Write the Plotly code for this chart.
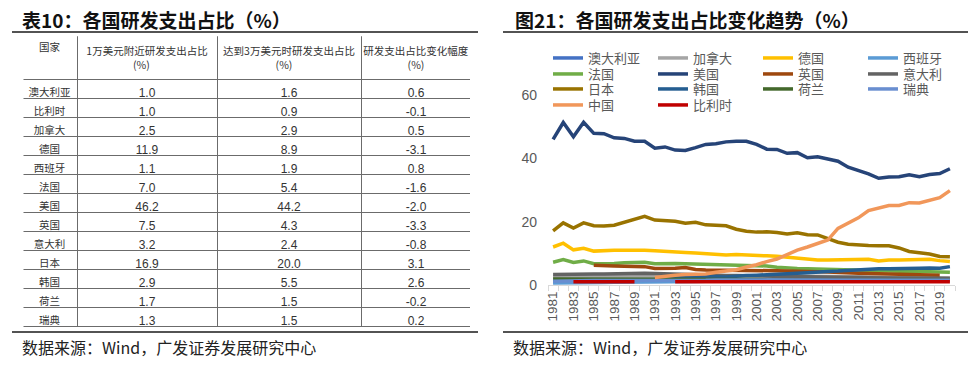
import plotly.graph_objects as go

# the page body adds an 8px margin; lay the figure out in reference pixels shifted by it
OFF = 8
W, H = 976 - OFF, 369 - OFF
def px(x): return (x - OFF) / W
def py(y): return 1 - (y - OFF) / H

# ---------------- table data ----------------
tbl_countries = ["澳大利亚", "比利时", "加拿大", "德国", "西班牙", "法国", "美国",
                 "英国", "意大利", "日本", "韩国", "荷兰", "瑞典"]
tbl_at_10k = ["1.0", "1.0", "2.5", "11.9", "1.1", "7.0", "46.2", "7.5", "3.2", "16.9", "2.9", "1.7", "1.3"]
tbl_at_30k = ["1.6", "0.9", "2.9", "8.9", "1.9", "5.4", "44.2", "4.3", "2.4", "20.0", "5.5", "1.5", "1.5"]
tbl_change = ["0.6", "-0.1", "0.5", "-3.1", "0.8", "-1.6", "-2.0", "-3.3", "-0.8", "3.1", "2.6", "-0.2", "0.2"]
tbl_header = ["国家",
              "1万美元附近研发支出占比<br>\u3000\u3000\u3000\u3000\u00a0\u00a0(%)",
              "达到3万美元时研发支出占比<br>\u3000\u3000\u3000\u3000\u3000(%)",
              "研发支出占比变化幅度<br>\u3000\u3000\u3000\u3000\u00a0(%)"]

# ---------------- line chart data ----------------
years = list(range(1981, 2021))
N = None
australia = [1.0,1.0,1.0,1.0,1.0,1.0,1.1,1.1,1.1,1.1,1.1,1.2,1.2,1.2,1.3,1.3,1.3,1.3,1.3,1.3,
             1.3,1.4,1.4,1.5,1.5,1.6,1.6,1.7,1.7,1.7,1.7,1.7,1.7,1.6,1.6,1.5,1.5,1.5,1.5,1.5]
canada = [2.5,2.6,2.5,2.6,2.7,2.7,2.7,2.7,2.7,2.7,2.6,2.6,2.7,2.8,2.8,2.8,2.8,2.9,2.9,3.0,
          3.1,3.0,2.9,2.9,2.9,2.8,2.8,2.7,2.6,2.6,2.6,2.5,2.4,2.4,2.3,2.3,2.2,2.2,2.2,2.1]
germany = [12.0,13.2,11.1,11.6,10.7,10.9,11.0,11.0,11.1,11.0,10.8,10.7,10.5,10.3,10.1,9.9,9.7,9.5,9.6,9.4,
           9.2,9.2,9.1,8.8,8.3,8.0,7.9,7.9,7.9,7.9,8.0,8.1,7.6,7.9,7.9,8.0,8.2,8.1,7.7,7.4]
spain = [0.6,0.6,0.6,0.7,0.7,0.8,0.9,0.9,0.9,0.9,0.9,0.9,1.0,1.0,1.1,1.2,1.2,1.3,1.3,1.4,
         1.5,1.6,1.7,1.8,1.9,1.9,2.0,2.0,1.9,1.8,1.7,1.6,1.5,1.4,1.4,1.4,1.4,1.4,1.4,1.4]
france = [7.2,8.0,7.1,7.6,6.7,6.7,6.8,7.0,7.0,7.2,6.7,6.8,6.8,6.7,6.6,6.5,6.3,6.2,6.1,6.0,
          6.0,6.0,5.6,5.3,5.2,5.1,5.0,5.0,4.9,4.8,4.7,4.6,4.5,4.5,4.4,4.3,4.3,4.2,4.1,4.0]
usa = [46.0,51.3,46.8,51.4,47.9,47.8,46.5,46.3,45.4,45.4,43.2,43.6,42.6,42.5,43.4,44.4,44.6,45.2,45.4,45.4,
       44.4,42.9,42.8,41.6,41.8,40.2,40.5,39.8,39.1,37.2,36.1,35.1,33.7,34.1,34.2,34.8,34.2,34.9,35.2,36.7]
uk = [N,N,N,N,6.2,6.2,6.0,5.9,5.9,5.8,5.2,5.2,5.3,5.5,4.9,4.7,4.7,4.7,4.7,4.6,
      4.6,4.5,4.5,4.4,4.4,4.3,4.2,4.1,3.9,3.8,3.7,3.6,3.5,3.5,3.4,3.3,3.3,3.2,3.1,N]
italy = [3.3,3.4,3.3,3.4,3.5,3.5,3.6,3.6,3.7,3.7,3.6,3.5,3.3,3.2,3.1,3.0,3.0,3.0,3.0,2.9,
         2.9,2.9,2.8,2.7,2.6,2.6,2.6,2.5,2.5,2.4,2.4,2.3,2.2,2.2,2.2,2.2,2.2,2.2,2.2,2.1]
japan = [17.1,19.6,18.0,19.6,18.7,18.6,18.9,19.8,20.7,21.7,20.5,20.4,20.1,19.5,19.8,19.0,18.8,18.7,17.6,17.0,
         16.7,16.8,16.6,16.1,16.5,15.9,15.8,14.7,13.5,12.9,12.6,12.5,12.4,12.4,11.7,10.6,10.2,9.8,9.0,8.9]
korea = [N,N,N,N,N,N,N,N,N,N,1.9,2.0,2.2,2.4,2.6,2.7,2.6,2.5,2.8,3.0,
         3.1,3.2,3.3,3.5,3.7,3.9,4.2,4.3,4.4,4.6,4.8,5.0,5.1,5.1,5.1,5.1,5.3,5.4,5.3,5.8]
netherlands = [1.9,1.9,1.9,1.9,1.9,1.9,1.9,1.9,1.9,1.9,1.8,1.8,1.7,1.7,1.7,1.7,1.7,1.7,1.7,1.7,
               1.7,1.6,1.6,1.6,1.6,1.6,1.5,1.5,1.5,1.5,1.5,1.5,1.5,1.5,1.5,1.5,1.5,1.5,1.5,1.5]
sweden = [1.2,1.3,1.3,1.3,1.4,1.4,1.4,1.4,1.4,1.4,1.4,1.4,1.3,1.4,1.5,1.5,1.6,1.6,1.6,1.7,
          1.7,1.6,1.6,1.6,1.6,1.6,1.6,1.6,1.6,1.5,1.5,1.5,1.5,1.5,1.5,1.5,1.5,1.5,1.5,1.5]
china = [N,N,N,N,N,N,N,N,N,N,2.4,2.8,3.1,3.3,3.3,3.5,4.0,4.3,4.8,5.7,
         6.4,7.4,8.2,9.6,11.0,12.0,13.0,14.2,17.9,19.4,21.2,23.5,24.3,25.1,25.1,26.0,25.9,26.7,27.6,29.8]
belgium = [N,N,1.0,1.0,1.0,1.0,1.0,1.0,1.0,N,N,N,1.0,1.0,1.0,1.0,1.0,1.0,1.0,1.0,
           1.0,1.0,1.0,1.0,1.0,1.0,1.0,1.0,1.0,1.0,1.0,1.0,1.0,1.0,1.0,1.0,1.0,1.0,1.0,1.0]

series_names = ["澳大利亚", "加拿大", "德国", "西班牙", "法国", "美国", "英国", "意大利",
                "日本", "韩国", "荷兰", "瑞典", "中国", "比利时"]
series_values = [australia, canada, germany, spain, france, usa, uk, italy,
                 japan, korea, netherlands, sweden, china, belgium]
series_colors = ["#4472C4", "#A5A5A5", "#FFC000", "#5B9BD5", "#70AD47", "#264478", "#9E480E", "#636363",
                 "#997300", "#255E91", "#43682B", "#698ED0", "#F1975A", "#C00000"]

CJK = "Noto Sans CJK SC"
ARIAL = "Liberation Sans"

fig = go.Figure()

# table
fig.add_trace(go.Table(
    domain=dict(x=[px(22), px(471)], y=[py(330), py(35)]),
    columnwidth=[55, 140, 144, 110],
    header=dict(values=tbl_header, height=43, align="center",
                fill_color="white", line=dict(color="#6b6b6b", width=1),
                font=dict(family=CJK, size=10.5, color="#333333")),
    cells=dict(values=[tbl_countries, tbl_at_10k, tbl_at_30k, tbl_change], height=19,
               align="center", fill_color="white", line=dict(color="#6b6b6b", width=1),
               font=dict(family=[CJK, ARIAL, ARIAL, ARIAL], size=[10.5, 12, 12, 12], color="#333333")),
))

legend_ids = ["legend", "legend2", "legend3", "legend4"]
for i, (name, vals, col) in enumerate(zip(series_names, series_values, series_colors)):
    fig.add_trace(go.Scatter(
        x=years, y=vals, name=name, mode="lines",
        line=dict(color=col, width=3.5), connectgaps=False,
        legend=legend_ids[i // 4], xaxis="x", yaxis="y",
    ))

leg_common = dict(orientation="h", xanchor="left", yanchor="middle", bgcolor="rgba(0,0,0,0)",
                  font=dict(family=CJK, size=13, color="#595959"),
                  entrywidthmode="pixels", entrywidth=60, borderwidth=0,
                  tracegroupgap=0, itemwidth=30)
row_y = [58, 74, 89, 105]
layout_legends = {}
for lid, ry in zip(legend_ids, row_y):
    layout_legends[lid] = dict(x=px(548), y=py(ry), **leg_common)

fig.update_layout(
    width=W, height=H, margin=dict(l=0, r=0, t=0, b=0, pad=0, autoexpand=False),
    paper_bgcolor="white", plot_bgcolor="white",
    showlegend=True,
    xaxis=dict(domain=[px(548), px(955)], range=[1980.5, 2020.5], anchor="y",
               tickmode="array", tickvals=years[::2], ticktext=[str(y) for y in years[::2]],
               tickangle=-90, tickfont=dict(family=ARIAL, size=13.5, color="#595959"),
               showline=True, linecolor="#D9D9D9", linewidth=1, showgrid=False, zeroline=False,
               ticks="", minor=dict(ticks="outside", tickmode="linear", tick0=1980.5, dtick=1,
                                    ticklen=5, tickcolor="#D9D9D9", showgrid=False)),
    yaxis=dict(domain=[py(285), py(95)], range=[0, 60], anchor="x",
               tickmode="array", tickvals=[0, 20, 40, 60],
               tickfont=dict(family=ARIAL, size=14, color="#595959"),
               showgrid=False, zeroline=False, showline=False, ticks="", ticklabelstandoff=10),
    **layout_legends,
)

# titles, rules and sources
title_font = dict(family=CJK, size=19, color="#111111")
fig.add_annotation(x=px(20), y=py(19), xref="paper", yref="paper", xanchor="left", yanchor="middle",
                   text="<b>表10：各国研发支出占比（%）</b>", showarrow=False, font=title_font)
fig.add_annotation(x=px(513), y=py(19), xref="paper", yref="paper", xanchor="left", yanchor="middle",
                   text="<b>图21：各国研发支出占比变化趋势（%）</b>", showarrow=False, font=title_font)
src_font = dict(family=CJK, size=16, color="#222222")
fig.add_annotation(x=px(20), y=py(347), xref="paper", yref="paper", xanchor="left", yanchor="middle",
                   text="数据来源：Wind，广发证券发展研究中心", showarrow=False, font=src_font)
fig.add_annotation(x=px(511), y=py(347), xref="paper", yref="paper", xanchor="left", yanchor="middle",
                   text="数据来源：Wind，广发证券发展研究中心", showarrow=False, font=src_font)

# hide the table's outer left/right/top borders (the reference table has open sides)
for (x0, x1, y0, y1) in [(19, 23.5, 33, 331), (470, 474, 33, 331), (19, 474, 33.5, 36.2)]:
    fig.add_shape(type="rect", xref="paper", yref="paper", x0=px(x0), x1=px(x1), y0=py(y1), y1=py(y0),
                  fillcolor="white", line=dict(width=0), layer="above")

for x0, x1 in [(12, 478), (503, 968)]:
    for yy in (32, 332):
        fig.add_shape(type="line", xref="paper", yref="paper", x0=px(x0), x1=px(x1), y0=py(yy), y1=py(yy),
                      line=dict(color="#1a1a1a", width=1.5), layer="above")

fig.write_html("out.html")
